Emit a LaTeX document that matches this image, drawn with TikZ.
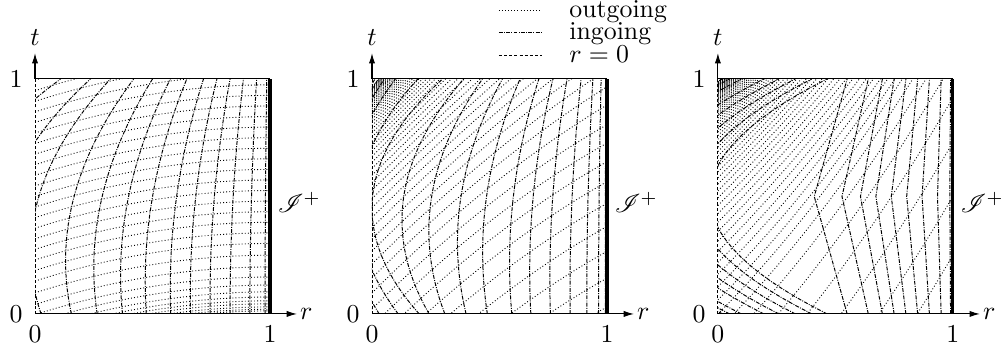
\documentclass[tikz,border=0pt]{standalone}
\usepackage{mathrsfs}
\usetikzlibrary{arrows.meta}

\begin{document}
\begin{tikzpicture}[
    x=3.2cm, y=3.2cm,
    outgo/.style={line width=0.35pt, dash pattern=on 0.35pt off 0.85pt},
    ingo/.style={line width=0.38pt, dash pattern=on 1.5pt off 0.5pt on 0.35pt off 0.5pt},
    origin/.style={line width=0.35pt, dash pattern=on 1.2pt off 0.8pt},
    axis/.style={line width=0.4pt, -{Latex[length=4pt,width=2.4pt]}},
    scri/.style={line width=1.2pt},
    ticklbl/.style={inner sep=1pt},
    legtxt/.style={anchor=west, inner sep=0pt, text height=1.4ex, text depth=0.15ex},
  ]
  \useasboundingbox (-0.149,-0.140) rectangle (4.115,1.336);

  % ---------- frames, axes and labels of the three panels ----------
  \foreach \px/\nm in {0/A, 1.434/B, 2.906/C}{%
    \begin{scope}[shift={(\px,0)}]
      \coordinate (o-\nm) at (0,0);
      \coordinate (tt-\nm) at (0,1);
      \coordinate (rr-\nm) at (1,0);
      \coordinate (c-\nm) at (1,1);
      \draw[axis] (o-\nm) -- (1.115,0) coordinate (xa-\nm);
      \draw[axis] (tt-\nm) -- (0,1.11) coordinate (ya-\nm);
      \draw[line width=0.4pt] (tt-\nm) -- (c-\nm);
      \draw[scri] (rr-\nm) -- (c-\nm);
      \draw[origin] (o-\nm) -- (tt-\nm);
      \node (t-\nm) at (0,1.175) {$t$};
      \node[anchor=west, inner sep=1pt] (r-\nm) at (xa-\nm) {$r$};
      \node[ticklbl, anchor=east] (tz-\nm) at (-0.04,0) {0};
      \node[ticklbl, anchor=east] (to-\nm) at (-0.04,1) {1};
      \node[ticklbl] (rz-\nm) at (0,-0.085) {0};
      \node[ticklbl] (ro-\nm) at (1,-0.085) {1};
      \node[anchor=west, inner sep=1pt] (scri-\nm) at (1.02,0.475) {$\mathscr{I}^+$};
    \end{scope}
  }

  % ---------- legend ----------
  \coordinate (lg1a) at (1.974,1.292); \coordinate (lg1b) at (2.157,1.292);
  \coordinate (lg2a) at (1.974,1.196); \coordinate (lg2b) at (2.157,1.196);
  \coordinate (lg3a) at (1.974,1.100); \coordinate (lg3b) at (2.157,1.100);
  \draw[outgo] (lg1a) -- (lg1b);
  \draw[ingo] (lg2a) -- (lg2b);
  \draw[origin] (lg3a) -- (lg3b);
  \node[legtxt] (lg-out) at (2.272,1.292) {outgoing};
  \node[legtxt] (lg-in) at (2.272,1.196) {ingoing};
  \node[legtxt] (lg-zero) at (2.272,1.100) {$r=0$};

  % ---------- panel A ----------
  \begin{scope}
    \clip (0,0) rectangle (1,1);
    \foreach \tone in {0.013,0.02,0.03,0.043,0.056,0.072,0.094,0.123,0.157,0.2,0.25,0.3,0.345,...,1.16}
      \draw[outgo] plot[domain=0:1, samples=30] (\x, {\tone-0.16*(1-\x)^2});
    % ingoing: r = A - k + k ((t-t*)/(1-t*))^2, turning height t* falls with A
    \foreach \A in {0.109,0.236,0.321,0.42,0.50,0.576,0.646,0.717,0.774,0.83,0.887,0.943,0.986}{%
      \pgfmathsetmacro\kk{0.5*(1-\A)}
      \pgfmathsetmacro\ts{0.39*(1-\A)}
      \draw[ingo] plot[variable=\t, domain=0:1, samples=30]
        ({\A-\kk+\kk*(\t-\ts)*(\t-\ts)/((1-\ts)*(1-\ts))}, \t);
    }
  \end{scope}

  % ---------- panel B ----------
  \begin{scope}[shift={(1.434,0)}]
    \clip (0,0) rectangle (1,1);
    \foreach \k in {0,...,55}{%
      \pgfmathsetmacro\dd{1.75*0.93^\k}
      \pgfmathsetmacro\kap{0.22*min(\dd,1)}
      \draw[outgo] plot[domain=0:1, samples=25] (\x, {1-\dd+\x-\kap*\x*\x});
    }
    \foreach \A in {0.013,0.027,0.053,0.10,0.195,0.30,0.39,0.47,0.555,0.63,
                    0.71,0.77,0.83,0.89,0.94,0.975,0.995}{%
      \pgfmathsetmacro\kk{min(0.21+0.45*(\A-0.1),0.43*(1-\A))}
      \pgfmathsetmacro\ts{min(0.45,0.45-0.57*(\A-0.3))}
      \draw[ingo] plot[variable=\t, domain=0:1, samples=30]
        ({\A-\kk+\kk*(\t-\ts)*(\t-\ts)/((1-\ts)*(1-\ts))}, \t);
    }
  \end{scope}

  % ---------- panel C ----------
  \begin{scope}[shift={(2.906,0)}]
    \clip (0,0) rectangle (1,1);
    \foreach \k in {0,...,70}{%
      \pgfmathsetmacro\dd{0.94^\k}
      \draw[outgo] plot[domain=0:1, samples=20] (\x, {1-\dd+\x+0.35*\dd*\x*\x});
    }
    \foreach \dd in {1.07,1.16,1.28,1.43,1.62,1.85,2.1,2.4}
      \draw[outgo] plot[domain=0:1, samples=20] (\x, {1-\dd+\x+0.35*\x*\x});
    % ingoing: smooth near the corner, coarse further out
    \foreach \A in {0.02,0.05,0.1,0.196,0.26,0.33,0.4,0.465}
      \draw[ingo] plot[variable=\t, domain=0:1, samples=30]
        ({\A-0.5+0.5*(\t-0.5)*(\t-0.5)/0.25}, \t);
    \foreach \A in {0.55,0.64,0.7,0.75,0.8,0.85,0.9,0.95,0.99}{%
      \pgfmathsetmacro\kk{0.14*(1-\A)/0.45}
      \draw[ingo] plot[variable=\t, domain=0:1, samples=3]
        ({\A-\kk+\kk*(\t-0.5)*(\t-0.5)/0.25}, \t);
    }
  \end{scope}

\end{tikzpicture}
\end{document}
